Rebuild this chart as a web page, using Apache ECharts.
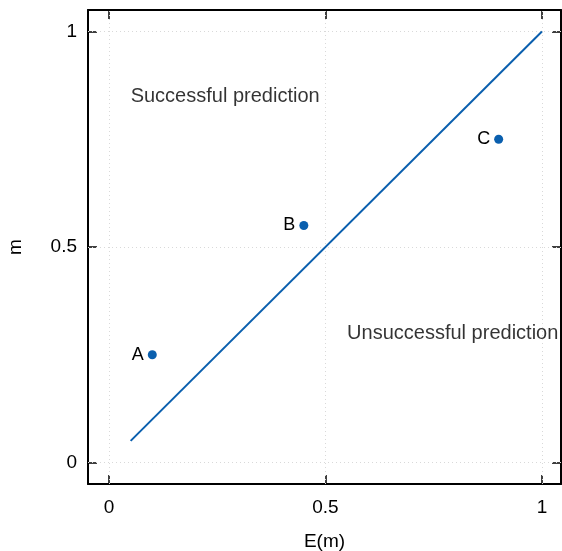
<!DOCTYPE html>
<html>
<head>
<meta charset="utf-8">
<script src="https://cdn.jsdelivr.net/npm/echarts@6/dist/echarts.min.js"></script>
<style>html,body{margin:0;padding:0;background:#fff;}#c{width:562px;height:551px;}</style>
</head>
<body>
<div id="c"></div>
<script>
const pointLabels = ['A', 'B', 'C'];
const pointX = [0.1, 0.45, 0.9];
const pointY = [0.25, 0.55, 0.75];
const lineX = [0.05, 1];
const lineY = [0.05, 1];
const tickValues = [0, 0.5, 1];
const tickLabels = ['0', '0.5', '1'];
const noteTexts = ['Successful prediction', 'Unsuccessful prediction'];
const noteX = [0.05, 0.55];
const noteY = [0.85, 0.30];

const FONT = 'Liberation Sans, Arial, Helvetica, sans-serif';
const BLUE = '#0a5fae';
const xMin = -0.0485, xMax = 1.044, yMin = -0.05, yMax = 1.05;

function fmt(v) { const i = tickValues.indexOf(v); return i >= 0 ? tickLabels[i] : ''; }

function axis(pos, showLabel, name, extra) {
  return Object.assign({
    type: 'value', position: pos,
    axisLine: { show: true, onZero: false, lineStyle: { color: '#000', width: 2 } },
    axisTick: { show: true, inside: true, length: 9, customValues: tickValues, lineStyle: { color: '#000', width: 1.5 } },
    axisLabel: { show: showLabel, customValues: tickValues, formatter: fmt, color: '#000', fontSize: 19, fontFamily: FONT },
    splitLine: { show: false },
    name: name, nameLocation: 'middle',
    nameTextStyle: { color: '#000', fontSize: 19, fontFamily: FONT }
  }, extra);
}

const chart = echarts.init(document.getElementById('c'), null, { renderer: 'canvas' });
chart.setOption({
  animation: false,
  backgroundColor: '#fff',
  grid: { left: 88, top: 10, width: 473, height: 474, containLabel: false, outerBoundsMode: 'none' },
  xAxis: [
    axis('bottom', true, 'E(m)', { min: xMin, max: xMax, nameGap: 48, axisLabel: { customValues: tickValues, formatter: fmt, color: '#000', fontSize: 19, fontFamily: FONT, margin: 14 } }),
    axis('top', false, '', { min: xMin, max: xMax })
  ],
  yAxis: [
    axis('left', true, 'm', { min: yMin, max: yMax, nameGap: 63, axisLabel: { customValues: tickValues, formatter: fmt, color: '#000', fontSize: 19, fontFamily: FONT, margin: 11 } }),
    axis('right', false, '', { min: yMin, max: yMax })
  ],
  series: [
    {
      type: 'line', data: [], silent: true, z: 1,
      markLine: {
        silent: true, symbol: 'none', label: { show: false }, z: 1,
        lineStyle: { color: '#d9d9d9', type: [1, 3], width: 1 },
        data: tickValues.map(v => ({ xAxis: v })).concat(tickValues.map(v => ({ yAxis: v })))
      }
    },
    {
      type: 'line', data: lineX.map((x, i) => [x, lineY[i]]), symbol: 'none', z: 3,
      lineStyle: { color: BLUE, width: 2 }
    },
    {
      type: 'scatter', data: pointX.map((x, i) => [x, pointY[i], pointLabels[i]]), z: 4,
      symbolSize: 9, itemStyle: { color: BLUE, opacity: 1 },
      label: { show: true, position: 'left', distance: 4, formatter: p => p.data[2], color: '#000', fontSize: 18, fontFamily: FONT }
    },
    {
      type: 'scatter', data: noteX.map((x, i) => [x, noteY[i], noteTexts[i]]), z: 4,
      symbolSize: 0, silent: true,
      label: { show: true, position: 'right', distance: 0, formatter: p => p.data[2], color: '#000', fontSize: 20, fontFamily: FONT }
    }
  ]
});
</script>
</body>
</html>
